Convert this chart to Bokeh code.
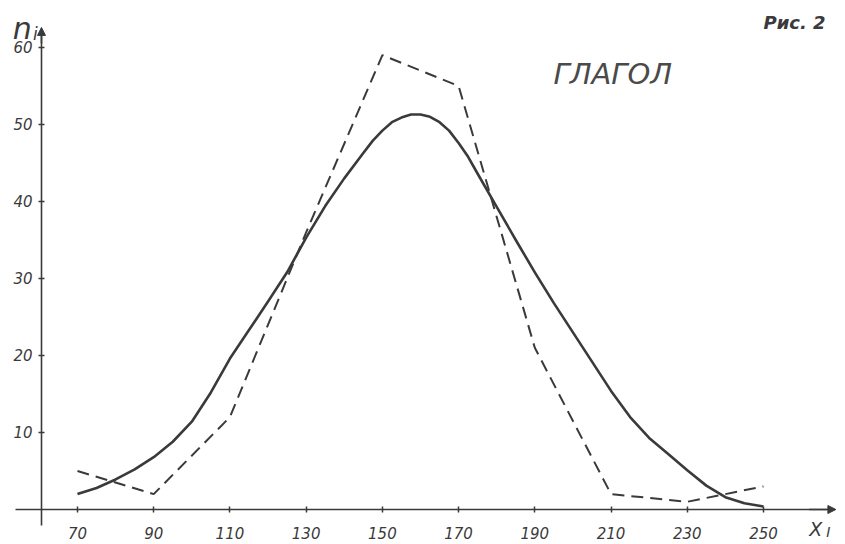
from bokeh.plotting import figure
from bokeh.models import Label, Arrow, NormalHead, FixedTicker, Range1d
from bokeh.embed import file_html
from bokeh.resources import INLINE

# ---- data ----
x_ticks = [70, 90, 110, 130, 150, 170, 190, 210, 230, 250]
y_ticks = [10, 20, 30, 40, 50, 60]

# empirical (dashed polygon)
emp_x = [70, 90, 110, 130, 150, 170, 190, 210, 230, 250]
emp_n = [5, 2, 12, 36, 59, 55, 21, 2, 1, 3]

# theoretical (smooth solid curve)
theo_x = [70, 75, 80, 85, 90, 95, 100, 105, 110, 115, 120, 125, 130, 135, 140,
          145, 147.5, 150, 152.5, 155, 157.5, 160, 162.5, 165, 167.5, 170, 172.5,
          175, 180, 185, 190, 195, 200, 205, 210,
          215, 220, 225, 230, 235, 240, 245, 250]
theo_n = [2.0, 2.8, 3.9, 5.2, 6.8, 8.8, 11.4, 15.2, 19.6, 23.3, 27.0, 30.8, 35.3,
          39.4, 43.0, 46.3, 47.9, 49.2, 50.3, 50.9, 51.3, 51.3, 51.0, 50.3, 49.2,
          47.6, 45.8, 43.6, 39.3, 35.0, 30.8,
          26.8, 23.0, 19.2, 15.4, 12.0, 9.3, 7.2, 5.1, 3.1, 1.6, 0.8, 0.4]

INK = "#3a3a3a"
FONT = "DejaVu Sans"

p = figure(width=845, height=544, output_backend="svg", toolbar_location=None,
           x_range=Range1d(49.80, 271.52), y_range=Range1d(-4.545, 66.10),
           min_border=0, min_border_left=0, min_border_right=0,
           min_border_top=0, min_border_bottom=0)
p.background_fill_color = "white"
p.border_fill_color = "white"
p.outline_line_color = None
p.grid.visible = False

# axes crossing at fixed locations
p.xaxis.fixed_location = 0
p.xaxis.bounds = (53.7, 268.0)
p.yaxis.fixed_location = 60.55
p.yaxis.bounds = (-2.1, 61.5)
p.xaxis.ticker = FixedTicker(ticks=x_ticks)
p.yaxis.ticker = FixedTicker(ticks=y_ticks)
for ax in (p.xaxis[0], p.yaxis[0]):
    ax.axis_line_color = INK
    ax.axis_line_width = 1.6
    ax.major_tick_line_color = INK
    ax.major_tick_line_width = 1.5
    ax.major_tick_in = 3
    ax.major_tick_out = 3
    ax.minor_tick_line_color = None
    ax.major_label_text_font = FONT
    ax.major_label_text_font_style = "italic"
    ax.major_label_text_font_size = "15px"
    ax.major_label_text_color = INK
p.xaxis.major_label_standoff = 14
p.yaxis.major_label_standoff = 6

# curves
p.line(theo_x, theo_n, line_color=INK, line_width=2.6, line_join="round")
p.line(emp_x, emp_n, line_color=INK, line_width=2.0, line_dash="12 7")

# axis arrows
p.add_layout(Arrow(x_start=60.55, y_start=60.5, x_end=60.55, y_end=62.6,
                   line_color=INK, line_width=1.6,
                   end=NormalHead(size=8, fill_color=INK, line_color=INK)))
p.add_layout(Arrow(x_start=262.0, y_start=0, x_end=269.0, y_end=0,
                   line_color=INK, line_width=1.6,
                   end=NormalHead(size=8, fill_color=INK, line_color=INK)))

def lab(x, y, t, size, style="italic", color=INK):
    p.add_layout(Label(x=x, y=y, text=t, text_font=FONT, text_font_style=style,
                       text_font_size=size, text_color=color,
                       text_baseline="alphabetic", text_align="left"))

lab(53.0, 62.4, "n", "30px")
lab(58.3, 61.8, "i", "17px")
lab(250.0, 63.3, "Рис. 2", "18px", "bold italic")
lab(194.9, 56.6, "ГЛАГОЛ", "29px", "italic", "#4a4a4a")
lab(262.0, -2.5, "X", "19px")
lab(266.5, -2.9, "I", "14px")

open("out.html", "w").write(file_html(p, INLINE))
